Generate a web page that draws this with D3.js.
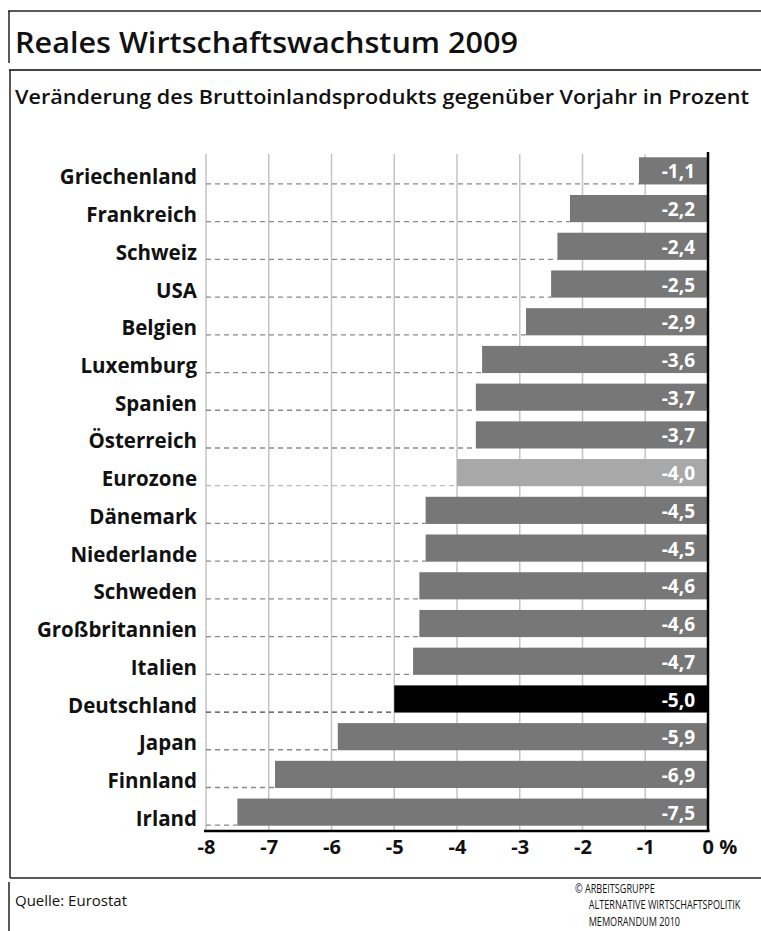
<!DOCTYPE html>
<html>
<head>
<meta charset="utf-8">
<script src="https://cdn.jsdelivr.net/npm/d3@7"></script>
<style>
  body { margin: 0; background: #fff; }
  svg { display: block; }
</style>
</head>
<body>
<svg id="chart" width="761" height="931"></svg>
<script>
const countries = ["Griechenland", "Frankreich", "Schweiz", "USA", "Belgien", "Luxemburg", "Spanien", "Österreich", "Eurozone", "Dänemark", "Niederlande", "Schweden", "Großbritannien", "Italien", "Deutschland", "Japan", "Finnland", "Irland"];
const growth = [-1.1, -2.2, -2.4, -2.5, -2.9, -3.6, -3.7, -3.7, -4.0, -4.5, -4.5, -4.6, -4.6, -4.7, -5.0, -5.9, -6.9, -7.5];
const xTicks = [-8, -7, -6, -5, -4, -3, -2, -1, 0];
const highlight = { "Eurozone": "eu", "Deutschland": "de" };

const rows = countries.map((c, i) => ({ name: c, value: growth[i] }));

const svg = d3.select("#chart");
const font = "'Open Sans', 'DejaVu Sans', sans-serif";

const locale = d3.formatLocale({ decimal: ",", thousands: ".", grouping: [3], currency: ["", " €"], minus: "-" });
const fmt = locale.format(".1f");

const x = d3.scaleLinear().domain([-8, 0]).range([206, 708]);
const y = d3.scaleBand().domain(countries).range([152, 831]).paddingInner(0.28).paddingOuter(0.14);

// frames
svg.append("line").attr("x1", 8).attr("x2", 761).attr("y1", 11).attr("y2", 11)
  .attr("stroke", "#222").attr("stroke-width", 1.5);
svg.append("line").attr("x1", 9).attr("x2", 9).attr("y1", 11).attr("y2", 63)
  .attr("stroke", "#222").attr("stroke-width", 1.5);
svg.append("line").attr("x1", 9).attr("x2", 761).attr("y1", 70).attr("y2", 70)
  .attr("stroke", "#444").attr("stroke-width", 2);
svg.append("line").attr("x1", 10).attr("x2", 10).attr("y1", 70).attr("y2", 878)
  .attr("stroke", "#222").attr("stroke-width", 1.5);
svg.append("line").attr("x1", 10).attr("x2", 761).attr("y1", 878).attr("y2", 878)
  .attr("stroke", "#222").attr("stroke-width", 1.5);
svg.append("line").attr("x1", 9).attr("x2", 9).attr("y1", 882).attr("y2", 931)
  .attr("stroke", "#222").attr("stroke-width", 1.5);

// titles
svg.append("text").attr("x", 15).attr("y", 53)
  .attr("font-family", font).attr("font-weight", 600).attr("font-size", 29)
  .attr("textLength", 503).attr("lengthAdjust", "spacingAndGlyphs")
  .attr("fill", "#111").text("Reales Wirtschaftswachstum 2009");
svg.append("text").attr("x", 15).attr("y", 104)
  .attr("font-family", font).attr("font-weight", 600).attr("font-size", 20)
  .attr("textLength", 734).attr("lengthAdjust", "spacingAndGlyphs")
  .attr("fill", "#111").text("Veränderung des Bruttoinlandsprodukts gegenüber Vorjahr in Prozent");

// gridlines
svg.append("g").selectAll("line").data(xTicks.filter(d => d < 0)).join("line")
  .attr("x1", d => x(d)).attr("x2", d => x(d))
  .attr("y1", 154).attr("y2", 831)
  .attr("stroke", "#c4c4c4").attr("stroke-width", 1.5);

// dashed leader lines
svg.append("g").selectAll("line").data(rows).join("line")
  .attr("x1", x(-8)).attr("x2", d => x(d.value))
  .attr("y1", d => y(d.name) + y.bandwidth() - 0.5)
  .attr("y2", d => y(d.name) + y.bandwidth() - 0.5)
  .attr("stroke", d => highlight[d.name] === "de" ? "#444" : highlight[d.name] === "eu" ? "#bbb" : "#8a8a8a")
  .attr("stroke-width", 1.3)
  .attr("stroke-dasharray", "5,4");

// bars
svg.append("g").selectAll("rect").data(rows).join("rect")
  .attr("x", d => x(d.value))
  .attr("y", d => y(d.name))
  .attr("width", d => x(0) - x(d.value))
  .attr("height", y.bandwidth())
  .attr("fill", d => highlight[d.name] === "de" ? "#000" : highlight[d.name] === "eu" ? "#a8a8a8" : "#777");

// value labels
svg.append("g").selectAll("text").data(rows).join("text")
  .attr("x", 695)
  .attr("y", d => y(d.name) + y.bandwidth() - 6)
  .attr("text-anchor", "end")
  .attr("font-family", font).attr("font-weight", 700).attr("font-size", 19)
  .attr("fill", "#fff")
  .text(d => fmt(d.value));

// category labels
svg.append("g").selectAll("text").data(rows).join("text")
  .attr("x", 197)
  .attr("y", d => y(d.name) + y.bandwidth())
  .attr("text-anchor", "end")
  .attr("font-family", font).attr("font-weight", 700).attr("font-size", 20.5)
  .attr("fill", "#111")
  .text(d => d.name);

// axis lines
svg.append("line").attr("x1", 204).attr("x2", 709.5).attr("y1", 831).attr("y2", 831)
  .attr("stroke", "#000").attr("stroke-width", 2.5);
svg.append("line").attr("x1", 708).attr("x2", 708).attr("y1", 152).attr("y2", 832)
  .attr("stroke", "#000").attr("stroke-width", 2.5);

// x axis labels
const xAxis = svg.append("g").attr("transform", "translate(0,832)")
  .call(d3.axisBottom(x).tickValues(xTicks).tickSize(0).tickPadding(8)
    .tickFormat(d => d === 0 ? "0 %" : fmt(d).replace(",0", "")));
xAxis.select(".domain").remove();
xAxis.selectAll("text")
  .attr("font-family", font).attr("font-weight", 700).attr("font-size", 20)
  .attr("fill", "#111").attr("dy", "0.71em");
xAxis.selectAll(".tick").filter(d => d === 0).select("text")
  .attr("text-anchor", "start").attr("x", -6);

// footer
svg.append("text").attr("x", 15).attr("y", 906)
  .attr("font-family", font).attr("font-size", 15).attr("fill", "#111")
  .text("Quelle: Eurostat");
const credit = ["© ARBEITSGRUPPE", "ALTERNATIVE WIRTSCHAFTSPOLITIK", "MEMORANDUM 2010"];
svg.append("g").attr("transform", "translate(575,0) scale(0.76,1)")
  .selectAll("text").data(credit).join("text")
  .attr("x", (d, i) => i === 0 ? 0 : 18)
  .attr("y", (d, i) => 893 + i * 16.4)
  .attr("font-family", font).attr("font-size", 12).attr("fill", "#111")
  .text(d => d);
</script>
</body>
</html>
